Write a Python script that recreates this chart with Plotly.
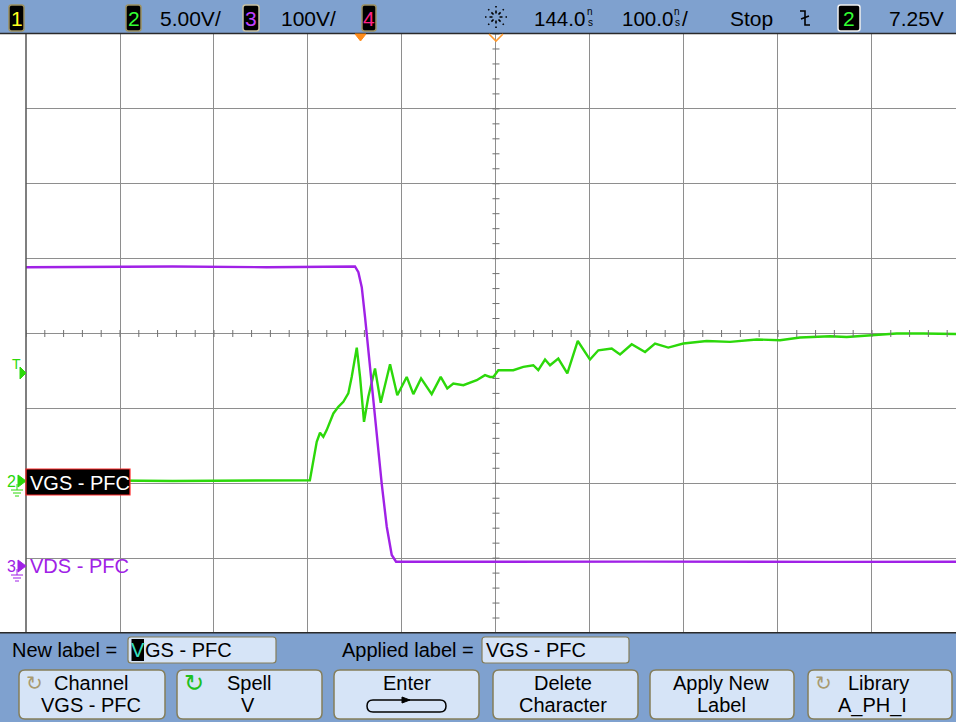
import plotly.graph_objects as go
import math

# ---------------- data (read from the screen) ----------------
# time in ns relative to trigger, 100 ns/div, delay 144 ns
t_vgs = [-356, -300, -200, -100, -54, -46.7, -43.2, -39.7, -36.1, -29.0, -23.7, -18.4,
         -13.1, -9.5, -4.1, -0.6, 3.6, 8.2, 15.3, 21.4, 31.3, 39.0, 49.0, 56.1, 64.3,
         75.6, 85.2, 92.2, 98.6, 109.3, 123.5, 132.3, 137.7, 141.2, 146.5, 162.4, 173.1,
         183.7, 189.0, 196.2, 201.5, 210.3, 219.9, 231.0, 244.0, 252.9, 267.1, 276.0,
         288.4, 302.6, 313.2, 327.3, 343.3, 368.2, 393.0, 421.4, 446.2, 467.4, 499.4,
         517.1, 545.4, 570.3, 598.6, 630.5, 634]
v_vgs = [0.0, 0.05, 0.0, 0.05, 0.05, 2.62, 3.22, 2.95, 3.40, 4.51, 4.95, 5.29,
         5.85, 6.95, 8.91, 6.95, 3.95, 5.62, 7.51, 5.22, 7.80, 5.73, 6.95, 5.80, 6.85,
         5.80, 6.95, 6.18, 6.51, 6.40, 6.73, 7.07, 6.95, 6.95, 7.40, 7.40, 7.62,
         7.73, 7.40, 8.11, 7.73, 8.18, 7.18, 9.35, 8.11, 8.73, 8.85, 8.45,
         9.13, 8.62, 9.18, 8.91, 9.18, 9.35, 9.29, 9.45, 9.40, 9.58, 9.67,
         9.62, 9.73, 9.85, 9.85, 9.80, 9.82]

t_vds = [-356, -200, -100, -6.0, -2.4, 1.2, 4.7, 8.2, 12.9, 17.8, 22.4, 27.8, 33.1,
         37.7, 100, 300, 500, 634]
v_vds = [399, 400, 399, 400, 392.4, 372.4, 332.4, 288, 234.7, 172.4, 110.3, 52.4, 14.7,
         5.7, 5.5, 5.8, 5.5, 5.6]

ch2_scale = "5.00V/"
ch3_scale = "100V/"
delay_txt = "144.0"
timebase_txt = "100.0"
trig_level = "7.25V"
ch2_label = "VGS - PFC"
ch3_label = "VDS - PFC"
button_line1 = ["Channel", "Spell", "Enter", "Delete", "Apply New", "Library"]
button_line2 = ["VGS - PFC", "V", "", "Character", "Label", "A_PH_I"]

# ---------------- styles ----------------
GREEN = "#2CD80A"
PURPLE = "#A021E6"
BAR = "#7FA1CF"
BTN = "#D6E4F7"
EDGE = "#857E5A"
GRID = "#8E8E8E"
FONT = "Liberation Sans, Arial, sans-serif"

L, T, W, H = 26, 34, 930, 599
def X(p): return (p - L) / W
def Y(p): return (T + H - p) / H

shapes, ann = [], []

def rect(x0, y0, x1, y1, fill, line=None, lw=0):
    shapes.append(dict(type="rect", xref="paper", yref="paper", x0=X(x0), x1=X(x1),
                       y0=Y(y1), y1=Y(y0), fillcolor=fill,
                       line=dict(color=line or fill, width=lw)))

def rrect(x0, y0, x1, y1, r, fill, line, lw=1.2):
    p = (f"M {X(x0+r)},{Y(y0)} L {X(x1-r)},{Y(y0)} Q {X(x1)},{Y(y0)} {X(x1)},{Y(y0+r)} "
         f"L {X(x1)},{Y(y1-r)} Q {X(x1)},{Y(y1)} {X(x1-r)},{Y(y1)} L {X(x0+r)},{Y(y1)} "
         f"Q {X(x0)},{Y(y1)} {X(x0)},{Y(y1-r)} L {X(x0)},{Y(y0+r)} Q {X(x0)},{Y(y0)} {X(x0+r)},{Y(y0)} Z")
    shapes.append(dict(type="path", xref="paper", yref="paper", path=p,
                       fillcolor=fill, line=dict(color=line, width=lw)))

def poly(pts, fill, line=None, lw=1, closed=True):
    p = "M " + " L ".join(f"{X(a)},{Y(b)}" for a, b in pts) + (" Z" if closed else "")
    shapes.append(dict(type="path", xref="paper", yref="paper", path=p,
                       fillcolor=fill if closed else None,
                       line=dict(color=line or fill, width=lw)))

def seg(x0, y0, x1, y1, color, lw=1, dash="solid"):
    shapes.append(dict(type="line", xref="paper", yref="paper", x0=X(x0), y0=Y(y0),
                       x1=X(x1), y1=Y(y1), line=dict(color=color, width=lw, dash=dash)))

def text(x, y, s, size=20, color="black", xanchor="left", family=FONT):
    ann.append(dict(xref="paper", yref="paper", x=X(x), y=Y(y), text=s, showarrow=False,
                    xanchor=xanchor, yanchor="middle", borderpad=0,
                    font=dict(size=size, color=color, family=family)))

# ---------------- figure ----------------
fig = go.Figure()
fig.add_trace(go.Scatter(x=t_vds, y=v_vds, yaxis="y2", mode="lines",
                         line=dict(color=PURPLE, width=2.4), hoverinfo="skip"))
fig.add_trace(go.Scatter(x=t_vgs, y=v_vgs, mode="lines",
                         line=dict(color=GREEN, width=2.4), hoverinfo="skip"))

# minor ticks on the centre lines (0.2 div)
xr = [-356, 633.4]
yr = [-10.15, 29.85]
ctr_t, ctr_v = 144, 9.85
tick_x = [ctr_t + 20 * k for k in range(-25, 25)]
tick_y = [ctr_v + 1.0 * k for k in range(-20, 21)]
fig.add_trace(go.Scatter(x=tick_x, y=[ctr_v] * len(tick_x), mode="markers",
                         marker=dict(symbol="line-ns", size=5, line=dict(color="#707070", width=1)),
                         hoverinfo="skip"))
fig.add_trace(go.Scatter(x=[ctr_t] * len(tick_y), y=tick_y, mode="markers",
                         marker=dict(symbol="line-ew", size=5, line=dict(color="#707070", width=1)),
                         hoverinfo="skip"))

# left border of graticule
seg(26, 34, 26, 633, "#555555", 1.5)

# ---------------- top bar ----------------
rect(0, 0, 956, 33, BAR)
seg(0, 33.5, 956, 33.5, "#2a2a2a", 1.5)

for (x0, x1, lab, col, bcol) in [(9, 24, "1", "#FFFF20", "#9C9060"),
                                 (126, 141, "2", "#33FF33", "#9C9060"),
                                 (243, 259, "3", "#C040FF", "#C8C0A0"),
                                 (362, 376, "4", "#FF2288", "#9C9060"),
                                 (838, 860, "2", "#33FF33", "#F0F0F0")]:
    rrect(x0, 5, x1, 31, 2.5, "black", bcol, 1.5)
    text((x0 + x1) / 2, 18, lab, 21, col, "center")

text(159, 18, ch2_scale, 21)
text(280, 18, ch3_scale, 21)
text(533, 18, delay_txt, 20.5)
text(590, 12, "n", 10, "black", "center")
text(590, 22, "s", 10, "black", "center")
text(621, 18, timebase_txt, 20.5)
text(677, 12, "n", 10, "black", "center")
text(677, 22, "s", 10, "black", "center")
text(681, 18, "/", 21)
text(729, 18, "Stop", 21)
text(888, 18, trig_level, 21)

# Agilent spark logo
for k in range(8):
    a = k * math.pi / 4
    seg(496 + 3.5 * math.cos(a), 17 + 3.5 * math.sin(a),
        496 + 11 * math.cos(a), 17 + 11 * math.sin(a), "black", 1.6, "dot")

# trigger slope symbol
poly([(800, 11), (805, 11), (805, 25), (810, 25)], None, "black", 1.6, closed=False)
seg(801, 19, 809, 16, "black", 1.4)

# orange trigger/delay markers
poly([(355, 34), (366, 34), (360.5, 41)], "#FF8C1A")
poly([(489, 34), (496, 41), (503, 34)], None, "#FF9A30", 1.6, closed=False)

# ---------------- left markers ----------------
text(16, 364, "T", 14, GREEN, "center")
poly([(20, 367), (26, 373), (20, 379)], GREEN)

text(11, 481, "2", 16, GREEN, "center")
poly([(18, 475), (26, 481), (18, 487)], GREEN)
seg(17, 484, 17, 490, GREEN, 1)
seg(11, 490, 23, 490, GREEN, 1)
seg(13, 493, 21, 493, GREEN, 1)
seg(15, 496, 19, 496, GREEN, 1)

rect(26, 469, 130, 495, "black", "#FF2A2A", 1.2)
text(29, 482.5, ch2_label, 20, "white")

text(11, 566, "3", 16, PURPLE, "center")
poly([(18, 560), (26, 566), (18, 572)], PURPLE)
seg(17, 569, 17, 575, PURPLE, 1)
seg(11, 575, 23, 575, PURPLE, 1)
seg(13, 578, 21, 578, PURPLE, 1)
seg(15, 581, 19, 581, PURPLE, 1)
text(29, 566, ch3_label, 20, PURPLE)

# ---------------- bottom panel ----------------
rect(0, 633, 956, 722, BAR)
seg(0, 632.8, 956, 632.8, "#2a2a2a", 1.5)

text(11, 649.5, "New label =", 20)
rrect(128, 637, 276, 663, 3, BTN, EDGE, 1.2)
rect(131.5, 639, 144, 661, "black")
text(137.7, 650, "V", 20, "#38E0C0", "center")
text(143.5, 650, ch2_label[1:], 20)

text(341, 649.5, "Applied label =", 20)
rrect(482, 637, 629, 663, 3, BTN, EDGE, 1.2)
text(485, 650, ch2_label, 20)

btn_x = [(19, 165), (177, 322), (334, 479), (493, 638), (650, 794), (808, 952)]
btn_c1 = [91, 249, 407, 563, 721, 878]
btn_c2 = [91, 248, 407, 563, 721, 872]
for i, (x0, x1) in enumerate(btn_x):
    rrect(x0, 670, x1, 719, 6, BTN, EDGE, 1.5)
    text(btn_c1[i], 683, button_line1[i], 20, "black", "center")
    if button_line2[i]:
        text(btn_c2[i], 705, button_line2[i], 20, "black", "center")

# rotate icons
text(34, 683, "↻", 20, "#A89A70", "center", "DejaVu Sans")
text(194, 683, "↻", 24, "#1EC01E", "center", "DejaVu Sans")
text(823, 683, "↻", 20, "#A89A70", "center", "DejaVu Sans")

# enter symbol
rrect(367, 700, 446, 712, 6, "rgba(0,0,0,0)", "black", 1.5)
poly([(402, 697), (410, 700), (402, 703)], "black")

fig.update_layout(
    shapes=shapes, annotations=ann,
    width=956, height=722, autosize=False,
    margin=dict(l=L, r=0, t=T, b=722 - T - H, pad=0),
    paper_bgcolor="white", plot_bgcolor="white",
    showlegend=False,
    xaxis=dict(range=xr, tick0=44, dtick=100, showgrid=True, gridcolor=GRID, gridwidth=1,
               showticklabels=False, ticks="", zeroline=False, showline=False, fixedrange=True),
    yaxis=dict(range=yr, tick0=-0.15, dtick=5, showgrid=True, gridcolor=GRID, gridwidth=1,
               showticklabels=False, ticks="", zeroline=False, showline=False, fixedrange=True),
    yaxis2=dict(range=[-89.5, 710.5], overlaying="y", visible=False, fixedrange=True),
)

fig.write_html("out.html", config={"displayModeBar": False},
               post_script="document.body.style.margin='0';document.body.style.overflow='hidden';")
